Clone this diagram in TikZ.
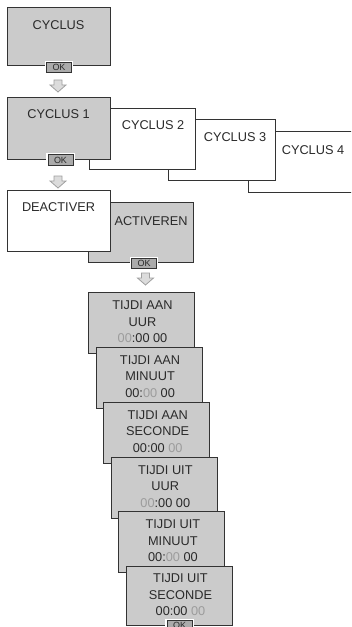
\documentclass[tikz,border=0pt]{standalone}
\usepackage{fontspec}
\setmainfont{Liberation Sans}
\definecolor{boxfill}{HTML}{CBCBCB}
\definecolor{edge}{HTML}{333333}
\definecolor{okfill}{HTML}{ABABAB}
\definecolor{dig}{HTML}{9C9C9C}
\definecolor{arrfill}{HTML}{DCDCDC}
\definecolor{arredge}{HTML}{A0A0A0}
\definecolor{txt}{HTML}{2A2A2A}
\tikzset{
  panel/.style={draw=edge, line width=1bp, anchor=north west, inner sep=0pt},
  grey/.style={fill=boxfill},
  white/.style={fill=white},
  lbl/.style={text=txt, font=\fontsize{12.8}{15}\selectfont, inner sep=0pt},
  tlbl/.style={text=txt, font=\fontsize{12.8}{16.5}\selectfont, align=center, inner sep=0pt},
  okbtn/.style={draw=edge, fill=okfill, line width=0.8bp, minimum width=25bp, minimum height=10.5bp,
    inner sep=0pt, text=txt, font=\fontsize{9}{9}\selectfont,
    preaction={draw=white, line width=3.2bp}},
  darr/.pic={\draw[draw=arredge, fill=arrfill, line width=0.8bp, line join=miter]
    (-4,0) -- (4,0) -- (4,5) -- (8,5) -- (0,12) -- (-8,5) -- (-4,5) -- cycle;}
}
\newcommand{\gd}[1]{\textcolor{dig}{#1}}
\begin{document}
\begin{tikzpicture}[x=1bp,y=-1bp]
\useasboundingbox (0,0) rectangle (351,627);
\clip (0,0) rectangle (351,627);

% CYCLUS
\node[panel,grey,minimum width=103bp,minimum height=58bp] (cyc) at (7,7) {};
\node[lbl] (cyct) at ([shift={(51.5,18)}]cyc.north west) {CYCLUS};
\node[okbtn] (ok1) at ([yshift=-1.5bp]cyc.south) {OK};
\pic (a1) at (58,80) {darr};

% CYCLUS 1..4
\node[panel,white,minimum width=120bp,minimum height=61bp] (c4) at (248,131) {};
\node[lbl] (c4t) at ([shift={(65,19)}]c4.north west) {CYCLUS 4};
\node[panel,white,minimum width=107bp,minimum height=61bp] (c3) at (168,119) {};
\node[lbl] (c3t) at ([shift={(67,18)}]c3.north west) {CYCLUS 3};
\node[panel,white,minimum width=106bp,minimum height=61bp] (c2) at (89,108) {};
\node[lbl] (c2t) at ([shift={(64,17)}]c2.north west) {CYCLUS 2};
\node[panel,grey,minimum width=103bp,minimum height=62bp] (c1) at (7,97) {};
\node[lbl] (c1t) at ([shift={(51.5,17)}]c1.north west) {CYCLUS 1};
\node[okbtn] (ok2) at ([xshift=1.5bp]c1.south) {OK};
\pic (a2) at (58,176) {darr};

% DEACTIVER / ACTIVEREN
\node[panel,grey,minimum width=105bp,minimum height=60bp] (act) at (88,202) {};
\node[lbl] (actt) at ([shift={(63,19)}]act.north west) {ACTIVEREN};
\node[panel,white,minimum width=103bp,minimum height=61bp] (deact) at (7,190) {};
\node[lbl] (deactt) at ([shift={(51.5,17)}]deact.north west) {DEACTIVER};
\node[okbtn] (ok3) at ([xshift=3bp,yshift=-0.5bp]act.south) {OK};
\pic (a3) at (145.5,273) {darr};

% TIJDI stack
\node[panel,grey,minimum width=106bp,minimum height=61bp] (t1) at (88,292) {};
\node[tlbl] (t1t) at ([shift={(1,30)}]t1.north) {TIJDI AAN\\UUR\\\gd{00}:00 00};
\node[panel,grey,minimum width=106bp,minimum height=61bp] (t2) at (95.6,346.5) {};
\node[tlbl] (t2t) at ([shift={(1,30)}]t2.north) {TIJDI AAN\\MINUUT\\00:\gd{00} 00};
\node[panel,grey,minimum width=106bp,minimum height=61bp] (t3) at (103.2,401.5) {};
\node[tlbl] (t3t) at ([shift={(1,30)}]t3.north) {TIJDI AAN\\SECONDE\\00:00 \gd{00}};
\node[panel,grey,minimum width=106bp,minimum height=61bp] (t4) at (110.8,456.5) {};
\node[tlbl] (t4t) at ([shift={(1,30)}]t4.north) {TIJDI UIT\\UUR\\\gd{00}:00 00};
\node[panel,grey,minimum width=106bp,minimum height=61bp] (t5) at (118.4,511) {};
\node[tlbl] (t5t) at ([shift={(1,30)}]t5.north) {TIJDI UIT\\MINUUT\\00:\gd{00} 00};
\node[panel,grey,minimum width=106bp,minimum height=59bp] (t6) at (126,566) {};
\node[tlbl] (t6t) at ([shift={(1,29)}]t6.north) {TIJDI UIT\\SECONDE\\00:00 \gd{00}};
\node[okbtn,anchor=north] (ok4) at ([yshift=6bp]t6.south) {OK};
\end{tikzpicture}
\end{document}
